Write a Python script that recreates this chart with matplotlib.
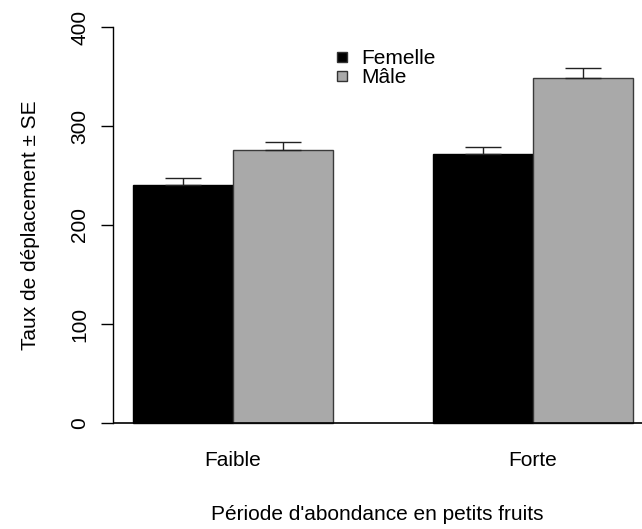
import matplotlib.pyplot as plt
import numpy as np

plt.rcParams['font.family'] = ['Liberation Sans', 'DejaVu Sans']

periods = ['Faible', 'Forte']
sexes = ['Femelle', 'Mâle']
means = {'Femelle': [240, 272], 'Mâle': [276, 349]}
se = {'Femelle': [7, 7], 'Mâle': [8, 10]}
colors = {'Femelle': '#000000', 'Mâle': '#A9A9A9'}

W, H = 642, 529
fs = 15
fig = plt.figure(figsize=(W / 100, H / 100), dpi=100)
# plot region in pixels (R style, x runs a bit past the right edge)
left, right, top, bottom = 113, 642, 11.2, 438.8
ax = fig.add_axes([left / W, 1 - bottom / H, (right - left) / W, (bottom - top) / H])

group_start = np.array([1.0, 4.0])
for i, sex in enumerate(sexes):
    x = group_start + i + 0.5
    ax.bar(x, means[sex], width=1.0, color=colors[sex],
           edgecolor='#000000' if sex == 'Femelle' else '#3a3a3a', linewidth=1, zorder=2)
    ax.errorbar(x, means[sex], yerr=[np.zeros(len(x)), se[sex]], fmt='none',
                ecolor='#222222', elinewidth=1, capsize=13, capthick=1, zorder=3)

ax.axhline(0, color='black', linewidth=1.2, zorder=4)

ax.set_xlim(0.8, 0.8 + (right - left) / 100)
ax.set_ylim(-16, 416)

for s in ['top', 'right', 'bottom']:
    ax.spines[s].set_visible(False)
ax.spines['left'].set_bounds(0, 400)
ax.spines['left'].set_linewidth(1)

ax.set_yticks([0, 100, 200, 300, 400])
ax.tick_params(axis='y', length=8.6, width=1, labelsize=fs, pad=8.5)
for lab in ax.get_yticklabels():
    lab.set_rotation(90)
    lab.set_va('center')

ax.set_xticks(group_start + 1)
ax.set_xticklabels(periods)
ax.tick_params(axis='x', length=0, labelsize=fs, pad=9)

ax.set_xlabel("Période d'abondance en petits fruits", fontsize=fs, labelpad=25)
ax.set_ylabel('Taux de déplacement ± SE', fontsize=fs, labelpad=22)

handles = [plt.Line2D([], [], marker='s', linestyle='none', markersize=6.5,
                      markerfacecolor=colors[s], markeredgecolor='#333333') for s in sexes]
ax.legend(handles, sexes, loc='upper left',
          bbox_to_anchor=((334 - left) / (right - left), 1 - (49 - top) / (bottom - top)),
          frameon=False, fontsize=fs, handlelength=0.8, handletextpad=0.5,
          labelspacing=0.0, borderpad=0, borderaxespad=0)

fig.savefig('out.png', dpi=100)
